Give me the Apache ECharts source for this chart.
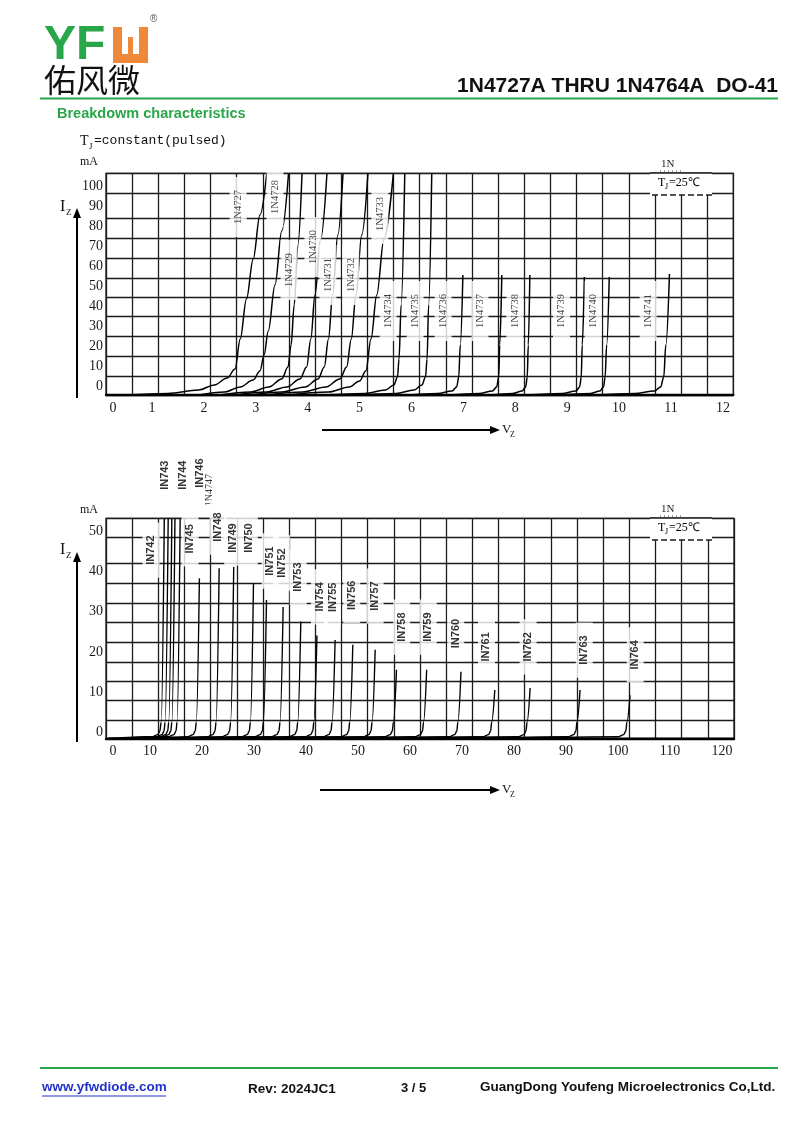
<!DOCTYPE html>
<html>
<head>
<meta charset="utf-8">
<script src="https://cdn.jsdelivr.net/npm/echarts@6/dist/echarts.min.js"></script>
<style>
html,body{margin:0;padding:0;background:#fff;}
#c{width:800px;height:1133px;}
</style>
</head>
<body>
<div id="c"></div>
<script>
// ---------------- DATA ----------------
// Chart 1 : axis ticks
const xTicks1 = [0,1,2,3,4,5,6,7,8,9,10,11,12];
const yTicks1 = [0,10,20,30,40,50,60,70,80,90,100];
// Chart 1 : horizontal grid rows (mA) as printed on the sheet
const gridRows1 = [0,9.15,19.15,29.15,39.15,48.65,58.35,68.35,78.35,88.35,100.85,110.85];
// Chart 1 : curves [Vz (V), Iz (mA)]
const d4727 = [[0.5,0],[1.3,0.8],[1.9,2.5],[2.2,5],[2.45,8.5],[2.6,13],[2.7,28],[2.82,48],[2.95,68],[3.08,90],[3.21,110.5]];
const d4728 = [[1.9,0],[2.4,1.5],[2.7,4],[2.95,7.5],[3.08,12],[3.16,20],[3.24,32],[3.37,55],[3.5,82],[3.63,110.5]];
const d4729 = [[2.3,0],[2.9,1.5],[3.25,4],[3.5,8],[3.62,14],[3.68,25],[3.74,45],[3.81,75],[3.89,110.5]];
const d4730 = [[2.6,0],[3.2,1.5],[3.6,4],[3.85,8],[3.98,14],[4.06,28],[4.14,50],[4.25,78],[4.37,110.5]];
const d4731 = [[2.9,0],[3.5,1.5],[3.95,4],[4.2,8],[4.32,14],[4.4,28],[4.48,50],[4.58,80],[4.68,110.5]];
const d4732 = [[3.2,0],[3.9,1.5],[4.35,4],[4.62,8],[4.75,14],[4.84,28],[4.93,50],[5.04,80],[5.16,110.5]];
const d4733 = [[3.6,0],[4.4,1.5],[4.8,4],[5.0,7],[5.12,12],[5.22,28],[5.33,50],[5.47,78],[5.65,110.5]];
const d4734 = [[4.3,0],[5.1,0.8],[5.5,2.5],[5.66,5],[5.73,9],[5.76,18],[5.8,45],[5.87,110.5]];
const d4735 = [[4.9,0],[5.7,0.8],[6.05,2.5],[6.2,5],[6.27,9],[6.3,18],[6.33,45],[6.39,110.5]];
const d4736 = [[5.9,0],[6.5,0.8],[6.78,2],[6.87,4],[6.91,9],[6.94,25],[6.99,60]];
const d4737 = [[6.7,0],[7.3,0.8],[7.56,2],[7.64,4],[7.68,9],[7.7,25],[7.74,60]];
const d4738 = [[7.5,0],[7.95,0.8],[8.13,2],[8.2,4],[8.23,9],[8.25,25],[8.28,60]];
const d4739 = [[8.2,0],[8.9,0.8],[9.17,2],[9.24,4],[9.27,9],[9.29,25],[9.33,59]];
const d4740 = [[8.8,0],[9.45,0.8],[9.63,2],[9.7,4],[9.73,9],[9.76,25],[9.81,59]];
const d4741 = [[9.5,0],[10.3,0.8],[10.68,2],[10.8,4],[10.86,9],[10.9,25],[10.97,60.5]];
const curves1 = [d4727,d4728,d4729,d4730,d4731,d4732,d4733,d4734,d4735,d4736,d4737,d4738,d4739,d4740,d4741];
// Chart 1 : curve labels
const labNames1 = ['1N4727','1N4728','1N4729','1N4730','1N4731','1N4732','1N4733','1N4734','1N4735','1N4736','1N4737','1N4738','1N4739','1N4740','1N4741'];
const labV1 = [2.66,3.37,3.64,4.10,4.39,4.83,5.39,5.55,6.07,6.61,7.32,7.99,8.89,9.50,10.56];
const labI1 = [94,99,62.5,74,60,60,90.5,42,42,42,42,42,42,42,42];

// Chart 2 : axis ticks
const xTicks2 = [0,10,20,30,40,50,60,70,80,90,100,110,120];
const yTicks2 = [0,10,20,30,40,50];
// Chart 2 : horizontal grid rows (mA) as printed on the sheet
const gridRows2 = [0,4.37,9.33,14.2,18.98,23.82,28.68,33.5,38.46,43.43,49.88,54.6];
// Chart 2 : curves [Vz (V), Iz (mA)]
const e4742 = [[2,0],[10.5,0.4],[11.5,0.9],[11.9,1.8],[12.15,4],[12.75,54.5]];
const e4743 = [[4,0],[11.3,0.4],[12.3,0.9],[12.7,1.8],[12.9,4],[13.5,54.5]];
const e4744 = [[5,0],[12,0.4],[13,0.9],[13.4,1.8],[13.6,4],[14.2,54.5]];
const e4746 = [[6,0],[12.6,0.4],[13.6,0.9],[14,1.8],[14.2,4],[14.8,54.5]];
const e4747 = [[7,0],[13.6,0.4],[14.6,0.9],[15,1.8],[15.2,4],[15.8,54.5]];
const e4745 = [[10,0],[17.3,0.4],[18.3,0.9],[18.7,1.8],[18.9,4],[19.5,39.7]];
const e4748 = [[13,0],[21.1,0.4],[22.1,0.9],[22.5,1.8],[22.7,4],[23.3,42.2]];
const e4749 = [[15,0],[23.9,0.4],[24.9,0.9],[25.3,1.8],[25.5,4],[26.1,42.5]];
const e4750 = [[18,0],[27.7,0.4],[28.7,0.9],[29.1,1.8],[29.3,4],[29.9,38.5]];
const e4751 = [[20,0],[30.2,0.4],[31.2,0.9],[31.6,1.8],[31.8,4],[32.4,34.3]];
const e4752 = [[23,0],[33.4,0.4],[34.4,0.9],[34.8,1.8],[35,4],[35.6,32.6]];
const e4753 = [[26,0],[36.8,0.4],[37.8,0.9],[38.2,1.8],[38.4,4],[39,29]];
const e4754 = [[29,0],[39.9,0.4],[40.9,0.9],[41.3,1.8],[41.5,4],[42.1,25.5]];
const e4755 = [[32,0],[43.4,0.4],[44.4,0.9],[44.8,1.8],[45,4],[45.6,24.4]];
const e4756 = [[35,0],[46.8,0.4],[47.8,0.9],[48.2,1.8],[48.4,4],[49,23.2]];
const e4757 = [[38,0],[51.1,0.4],[52.1,0.9],[52.5,1.8],[52.7,4],[53.3,22]];
const e4758 = [[42,0],[55.2,0.4],[56.2,0.9],[56.6,1.8],[56.8,4],[57.4,17]];
const e4759 = [[47,0],[61,0.4],[62,0.9],[62.4,1.8],[62.6,4],[63.2,17]];
const e4760 = [[52,0],[67.6,0.4],[68.6,0.9],[69,1.8],[69.2,4],[69.8,16.5]];
const e4761 = [[58,0],[74.1,0.4],[75.1,0.9],[75.5,1.8],[75.7,4],[76.3,12]];
const e4762 = [[64,0],[80.9,0.4],[81.9,0.9],[82.3,1.8],[82.5,4],[83.1,12.5]];
const e4763 = [[72,0],[90.5,0.4],[91.5,0.9],[91.9,1.8],[92.1,4],[92.7,12]];
const e4764 = [[80,0],[100.1,0.4],[101.1,0.9],[101.5,1.8],[101.7,4],[102.3,10.7]];
const curves2 = [e4742,e4743,e4744,e4746,e4747,e4745,e4748,e4749,e4750,e4751,e4752,e4753,e4754,e4755,e4756,e4757,e4758,e4759,e4760,e4761,e4762,e4763,e4764];
// Chart 2 : curve labels
const labNames2 = ['IN742','IN743','IN744','IN746','1N4747','IN745','IN748','IN749','IN750','IN751','IN752','IN753','IN754','IN755','IN756','IN757','IN758','IN759','IN760','IN761','IN762','IN763','IN764'];
const labV2 = [10.2,12.9,16.3,19.6,21.5,17.7,23.1,25.9,29.1,33.1,35.3,38.5,42.6,45.1,48.8,53.3,58.4,63.5,68.8,74.7,82.7,93.5,103.3];
const labI2 = [46.7,65.3,65.3,65.8,61.6,49.5,52.4,49.7,49.7,44,43.5,40,35.1,35,35.5,35.3,27.6,27.6,26,22.7,22.7,21.9,20.7];

// ---------------- LAYOUT ----------------
const G1 = {left:106, top:173.3, width:627.3, height:221.7};
const G2 = {left:106, top:518.3, width:628, height:220};
const X1 = {min:0.114, max:12.2, zeroPos:0.25};
const Y1 = {min:0, max:110.85, shift:4.15};
const X2 = {min:1.54, max:122.3, zeroPos:2.9};
const Y2 = {min:0, max:54.6, shift:1.4};
const GRID_COLS = 24;
const LINE = '#1b1b1b';
const SERIF = 'Liberation Serif';
const SANS = 'Liberation Sans';

function dataX(gi, X, ticks){
  return {
    gridIndex: gi, type:'value', min:X.min, max:X.max,
    axisLine:{show:true, onZero:false, lineStyle:{color:'#000', width:2.4}},
    axisTick:{show:false}, splitLine:{show:false},
    axisLabel:{
      customValues: ticks.map(t => t === 0 ? X.zeroPos : t),
      formatter: v => (v < X.zeroPos + 0.01 ? '0' : String(v)),
      fontFamily: SERIF, fontSize: 14, color:'#1a1a1a', margin: 6
    }
  };
}
function dataY(gi, Y, ticks, rows){
  return {
    gridIndex: gi, type:'value', min:Y.min, max:Y.max,
    axisLine:{show:false},
    axisTick:{show:false, customValues: rows},
    splitLine:{show:true, lineStyle:{color:LINE, width:1.3}},
    axisLabel:{
      customValues: ticks.map(t => t + Y.shift),
      formatter: v => String(Math.round(v - Y.shift)),
      fontFamily: SERIF, fontSize: 14, color:'#1a1a1a', margin: 3
    }
  };
}
function gridAxisX(gi, n){
  return {
    gridIndex: gi, type:'value', min:0, max:n, interval:1,
    axisLine:{show:false}, axisTick:{show:false}, axisLabel:{show:false},
    splitLine:{show:true, lineStyle:{color:LINE, width:1.3}}
  };
}

const series = [];
curves1.forEach((d, k) => series.push({
  type:'line', name: labNames1[k], xAxisIndex:0, yAxisIndex:0, data:d,
  showSymbol:false, smooth:0.35, smoothMonotone:'x', silent:true, z:3,
  lineStyle:{color:'#000', width:1.5}
}));
curves2.forEach((d, k) => series.push({
  type:'line', name: labNames2[k], xAxisIndex:2, yAxisIndex:1, data:d,
  showSymbol:false, smooth:0.35, smoothMonotone:'x', silent:true, z:3,
  lineStyle:{color:'#000', width:1.4}
}));
series.push({
  type:'scatter', xAxisIndex:0, yAxisIndex:0, clip:false, z:6, silent:true,
  symbolSize:1, itemStyle:{color:'rgba(0,0,0,0)'},
  data: labNames1.map((n,k) => ({name:n, value:[labV1[k], labI1[k]]})),
  label:{show:true, position:'inside', rotate:90, formatter:'{b}',
    fontFamily:SERIF, fontSize:10.5, color:'#111', backgroundColor:'#fff', padding:[3,13]}
});
series.push({
  type:'scatter', xAxisIndex:2, yAxisIndex:1, clip:false, z:6, silent:true,
  symbolSize:1, itemStyle:{color:'rgba(0,0,0,0)'},
  data: labNames2.map((n,k) => {
    const thin = n.indexOf('1N') === 0;
    return {name:n, value:[labV2[k], labI2[k]],
      label: thin ? {fontFamily:SERIF, fontWeight:'normal', fontSize:10, backgroundColor:'rgba(0,0,0,0)', padding:0} : {}};
  }),
  label:{show:true, position:'inside', rotate:90, formatter:'{b}',
    fontFamily:SANS, fontWeight:'bold', fontSize:11, color:'#000', backgroundColor:'#fff', padding:[3,13]}
});

// ---------------- DECORATION ----------------
const GREEN = '#2aa64a';
function txt(x, y, s, style){ return {type:'text', x:x, y:y, z:20, style:Object.assign({text:s, fill:'#000', font:'13px '+SANS}, style||{})}; }
function hline(x1, x2, y, color, w){ return {type:'line', z:20, shape:{x1:x1,y1:y,x2:x2,y2:y}, style:{stroke:color, lineWidth:w}}; }
function arrowUp(x, y1, y2){ return [
  {type:'line', z:20, shape:{x1:x,y1:y1,x2:x,y2:y2+8}, style:{stroke:'#000', lineWidth:2}},
  {type:'polygon', z:20, shape:{points:[[x,y2],[x-4,y2+10],[x+4,y2+10]]}, style:{fill:'#000'}}]; }
function arrowRight(x1, x2, y){ return [
  {type:'line', z:20, shape:{x1:x1,y1:y,x2:x2-8,y2:y}, style:{stroke:'#000', lineWidth:2}},
  {type:'polygon', z:20, shape:{points:[[x2,y],[x2-10,y-4],[x2-10,y+4]]}, style:{fill:'#000'}}]; }
function legendBox(x, y){ return [
  {type:'rect', z:15, shape:{x:x-6, y:y+8, width:62, height:22}, style:{fill:'#fff'}},
  hline(x-6, x+56, y+8, LINE, 1.3),
  txt(x+5, y-6, '1N', {font:'11px '+SERIF, fill:'#222'}),
  {type:'line', z:20, shape:{x1:x+4,y1:y+6,x2:x+26,y2:y+6}, style:{stroke:'#444', lineWidth:1, lineDash:[1,3]}},
  txt(x+2, y+12, 'T', {font:'12px '+SERIF}),
  txt(x+9, y+18, 'J', {font:'8px '+SERIF}),
  txt(x+13, y+12, '=25℃', {font:'12px '+SERIF}),
  {type:'line', z:20, shape:{x1:x-4,y1:y+30,x2:x+56,y2:y+30}, style:{stroke:LINE, lineWidth:1.3, lineDash:[6,3]}}
]; }

const graphic = [
  // logo
  txt(44, 22, 'YF', {font:'bold 48px '+SANS, fill:GREEN}),
  {type:'rect', z:20, shape:{x:113,y:27,width:9,height:36}, style:{fill:'#f0883a'}},
  {type:'rect', z:20, shape:{x:139,y:27,width:9,height:36}, style:{fill:'#f0883a'}},
  {type:'rect', z:20, shape:{x:113,y:54,width:35,height:9}, style:{fill:'#f0883a'}},
  {type:'rect', z:20, shape:{x:128,y:37,width:5,height:18}, style:{fill:'#f0883a'}},
  txt(150, 14, '®', {font:'10px '+SANS, fill:'#555'}),
  txt(44, 64, '佑风微', {font:'32px "Noto Sans CJK SC"', fill:'#111'}),
  txt(778, 76, '1N4727A THRU 1N4764A  DO-41', {font:'bold 21px '+SANS, textAlign:'right', fill:'#111'}),
  hline(40, 778, 98.5, GREEN, 2),
  txt(57, 106, 'Breakdowm characteristics', {font:'bold 14.5px '+SANS, fill:GREEN}),
  txt(80, 134, 'T', {font:'14px '+SERIF, fill:'#111'}),
  txt(89, 142, 'J', {font:'9px '+SERIF, fill:'#111'}),
  txt(94, 134, '=constant(pulsed)', {font:'13px "Liberation Mono"', fill:'#111'}),
  // chart 1 axis titles
  txt(80, 156, 'mA', {font:'12px '+SERIF, fill:'#111'}),
  txt(60, 199, 'I', {font:'16px '+SERIF, fill:'#111'}),
  txt(66, 208, 'Z', {font:'9px '+SERIF, fill:'#111'}),
  ...arrowUp(77, 398, 208),
  ...arrowRight(322, 500, 430),
  txt(502, 423, 'V', {font:'13px '+SERIF, fill:'#111'}),
  txt(510, 431, 'Z', {font:'8px '+SERIF, fill:'#111'}),
  ...legendBox(656, 165),
  // chart 2 axis titles
  txt(80, 504, 'mA', {font:'12px '+SERIF, fill:'#111'}),
  txt(60, 542, 'I', {font:'16px '+SERIF, fill:'#111'}),
  txt(66, 551, 'Z', {font:'9px '+SERIF, fill:'#111'}),
  ...arrowUp(77, 742, 552),
  ...arrowRight(320, 500, 790),
  txt(502, 783, 'V', {font:'13px '+SERIF, fill:'#111'}),
  txt(510, 791, 'Z', {font:'8px '+SERIF, fill:'#111'}),
  ...legendBox(656, 510),
  // footer
  hline(40, 778, 1068, GREEN, 2),
  txt(42, 1080, 'www.yfwdiode.com', {font:'bold 13.5px '+SANS, fill:'#2233cc'}),
  hline(42, 166, 1096, '#2233cc', 1),
  txt(248, 1082, 'Rev: 2024JC1', {font:'bold 13.5px '+SANS, fill:'#111'}),
  txt(401, 1082, '3 / 5', {font:'bold 13px '+SANS, fill:'#111'}),
  txt(480, 1080, 'GuangDong Youfeng Microelectronics Co,Ltd.', {font:'bold 13.5px '+SANS, fill:'#111'})
];

const option = {
  animation:false,
  backgroundColor:'#fff',
  grid:[
    Object.assign({show:true, borderColor:LINE, borderWidth:1.3, containLabel:false}, G1),
    Object.assign({show:true, borderColor:LINE, borderWidth:1.3, containLabel:false}, G2)
  ],
  xAxis:[ dataX(0, X1, xTicks1), gridAxisX(0, GRID_COLS), dataX(1, X2, xTicks2), gridAxisX(1, GRID_COLS) ],
  yAxis:[ dataY(0, Y1, yTicks1, gridRows1), dataY(1, Y2, yTicks2, gridRows2) ],
  series: series,
  graphic: graphic
};
const chart = echarts.init(document.getElementById('c'), null, {renderer:'canvas'});
chart.setOption(option);
</script>
</body>
</html>
